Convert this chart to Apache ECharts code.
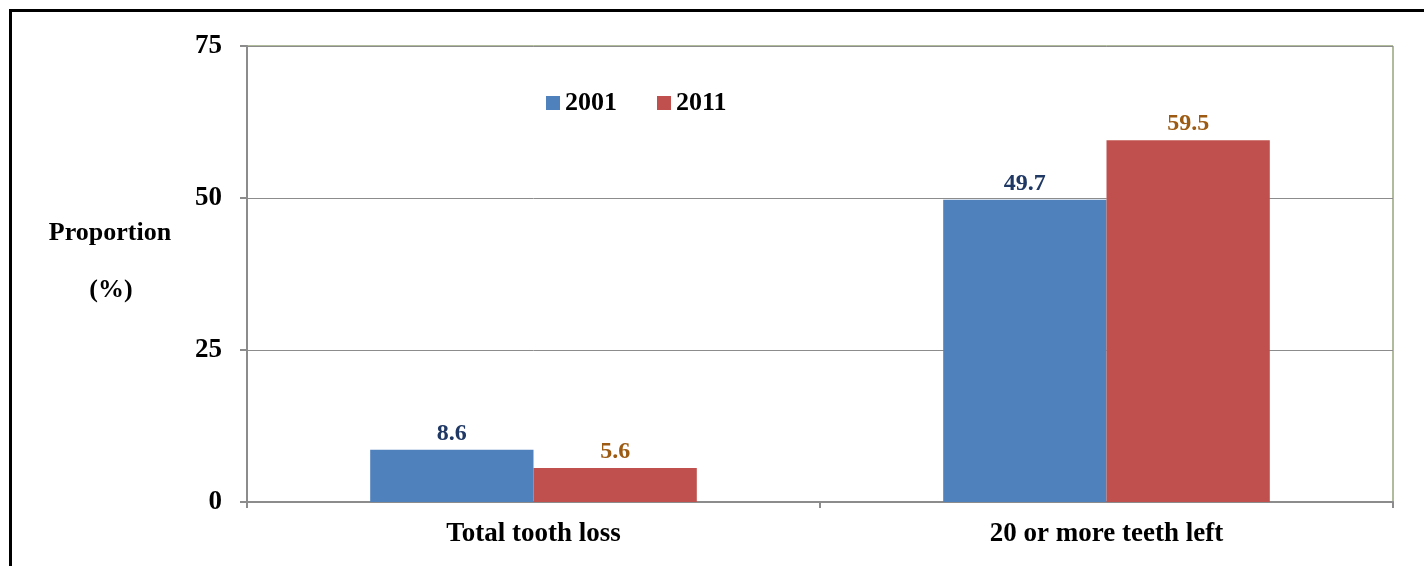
<!DOCTYPE html>
<html>
<head>
<meta charset="utf-8">
<script src="https://cdn.jsdelivr.net/npm/echarts@6/dist/echarts.min.js"></script>
<style>
  html, body { margin: 0; padding: 0; background: #fff; overflow: hidden; }
  #frame {
    position: absolute; left: 9px; top: 9px;
    width: 1500px; height: 600px;
    border-left: 3px solid #000; border-top: 3px solid #000;
  }
  #chart { position: absolute; left: 0; top: 0; width: 1424px; height: 566px; }
</style>
</head>
<body>
<div id="frame"></div>
<div id="chart"></div>
<script>
// categories and values
var categories = ['Total tooth loss', '20 or more teeth left'];
var years = ['2001', '2011'];
var values2001 = [8.6, 49.7];
var values2011 = [5.6, 59.5];
var yTicks = [0, 25, 50, 75];
var yTitle = ['Proportion', '(%)'];

var serif = '"Liberation Serif", "DejaVu Serif", serif';

function titleText(str, x, y) {
  return {
    type: 'text', x: x, y: y,
    style: {
      text: str, align: 'center', verticalAlign: 'middle',
      fontFamily: serif, fontSize: 26, fontWeight: 'bold', fill: '#000'
    }
  };
}

var myChart = echarts.init(document.getElementById('chart'));
myChart.setOption({
  animation: false,
  textStyle: { fontFamily: serif },
  grid: {
    left: 247, right: 31, top: 46, bottom: 64,
    show: true, borderColor: '#62793a', borderWidth: 1
  },
  // y axis title sits above the axis middle, two lines far apart
  graphic: [
    titleText(yTitle[0], 110, 233),
    titleText(yTitle[1], 111, 290)
  ],
  legend: {
    data: years,
    left: 541, top: 85,
    icon: 'rect', itemWidth: 14, itemHeight: 14, itemGap: 40, itemTextGap: 7,
    textStyle: { fontFamily: serif, fontSize: 26, fontWeight: 'bold', color: '#000' }
  },
  xAxis: {
    type: 'category',
    data: categories,
    axisLine: { lineStyle: { color: '#8c8c8c', width: 2 } },
    axisTick: { show: true, length: 6, lineStyle: { color: '#8c8c8c', width: 2 } },
    axisLabel: { margin: 19, fontFamily: serif, fontSize: 27, fontWeight: 'bold', color: '#000' }
  },
  yAxis: {
    type: 'value',
    min: yTicks[0], max: yTicks[yTicks.length - 1], interval: 25,
    axisLine: { show: true, lineStyle: { color: '#8c8c8c', width: 2 } },
    axisTick: { show: true, length: 7, lineStyle: { color: '#8c8c8c', width: 2 } },
    axisLabel: { margin: 25, fontFamily: serif, fontSize: 27, fontWeight: 'bold', color: '#000' },
    splitLine: { lineStyle: { color: '#8c8c8c', width: 1 } }
  },
  series: [
    {
      name: years[0], type: 'bar', data: values2001,
      barGap: '0%', barCategoryGap: '43%',
      itemStyle: { color: '#4f81bd' },
      label: { show: true, position: 'top', distance: 4, fontFamily: serif, fontSize: 24, fontWeight: 'bold', color: '#1f3864' }
    },
    {
      name: years[1], type: 'bar', data: values2011,
      itemStyle: { color: '#c0504d' },
      label: { show: true, position: 'top', distance: 4, fontFamily: serif, fontSize: 24, fontWeight: 'bold', color: '#9c5a12' }
    }
  ]
});
</script>
</body>
</html>
